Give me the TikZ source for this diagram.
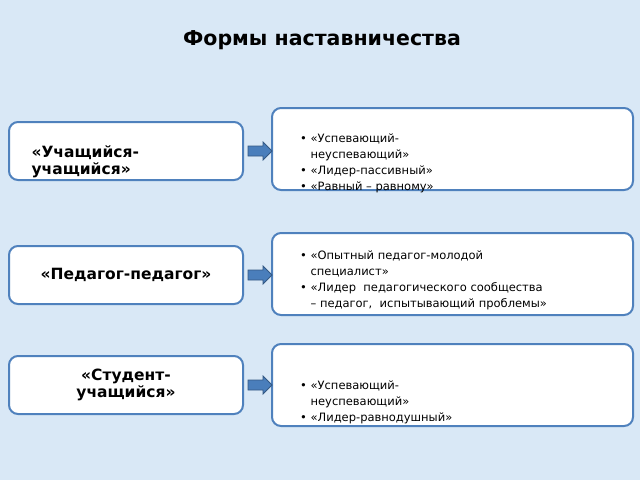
\documentclass[tikz,border=0pt]{standalone}
\usepackage{fontspec}
\setmainfont{DejaVu Sans}
\definecolor{bgblue}{HTML}{D9E8F6}
\definecolor{frameblue}{HTML}{4F81BD}
\definecolor{arrowblue}{HTML}{4A7EBB}
\tikzset{
  kind/.style={draw=frameblue,line width=2pt,fill=white,rounded corners=9pt,
    minimum width=234pt,minimum height=58pt,inner sep=0pt,
    font=\fontsize{15.5}{17}\selectfont\bfseries,align=center},
  forms/.style={draw=frameblue,line width=2pt,fill=white,rounded corners=9pt,
    minimum width=361pt,minimum height=82pt,inner sep=0pt,anchor=north west},
  items/.style={anchor=north west,inner sep=0pt,align=left,
    font=\fontsize{11.5}{16}\selectfont},
  pointer/.style={draw=arrowblue!70!black,fill=arrowblue,line width=0.8pt}
}
\newcommand{\bl}{\textbullet}
\begin{document}
\begin{tikzpicture}[x=1pt,y=-1pt]
\fill[bgblue] (0,0) rectangle (640,480);
\useasboundingbox (0,0) rectangle (640,480);
\node (title) at (322,40) {\fontsize{20.5}{22}\selectfont\bfseries Формы наставничества};
% left column
\node[kind] (k1) at (126,151) {};
\node[anchor=west,font=\fontsize{15.5}{17}\selectfont\bfseries,align=left] at (28,162) {«Учащийся-\\учащийся»};
\node[kind] (k2) at (126,275) {«Педагог-педагог»};
\node[kind] (k3) at (126,385) {\strut«Студент-\\учащийся»};
% right column
\node[forms] (f1) at (271,107) {};
\node[forms] (f2) at (271,232) {};
\node[forms] (f3) at (271,343) {};
\node[items] (t1) at (300,131) {\begin{tabular}{@{}l@{\ }l@{}}
\bl & «Успевающий-\\ & неуспевающий»\\
\bl & «Лидер-пассивный»\\
\bl & «Равный – равному»\end{tabular}};
\node[items] (t2) at (300,248) {\begin{tabular}{@{}l@{\ }l@{}}
\bl & «Опытный педагог-молодой\\ & специалист»\\
\bl & «Лидер\ \ педагогического сообщества\\ & – педагог,\ \ испытывающий проблемы»\end{tabular}};
\node[items] (t3) at (300,378) {\begin{tabular}{@{}l@{\ }l@{}}
\bl & «Успевающий-\\ & неуспевающий»\\
\bl & «Лидер-равнодушный»\end{tabular}};
% arrows
\foreach \k in {k1,k2,k3}
  \draw[pointer] ([xshift=4pt]\k.east) ++(0,-5) -- ++(15,0) -- ++(0,-4)
    -- ++(9,9) -- ++(-9,9) -- ++(0,-4) -- ++(-15,0) -- cycle;
\end{tikzpicture}
\end{document}
